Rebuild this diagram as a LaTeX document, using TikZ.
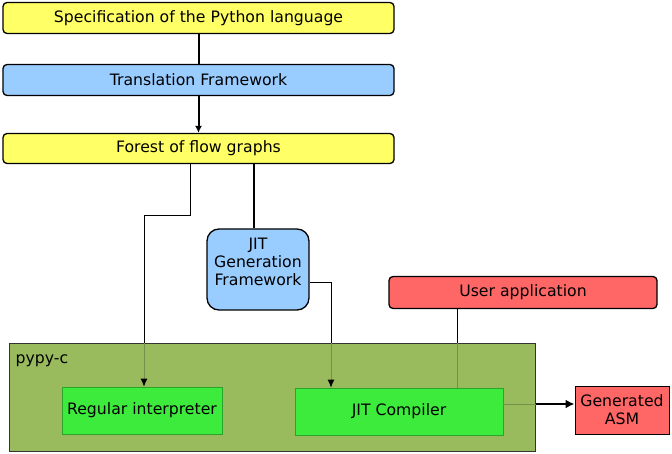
\documentclass[tikz,border=0pt]{standalone}
\usepackage{fontspec}
\setmainfont{DejaVu Sans}
\usetikzlibrary{arrows.meta, positioning, calc}

\definecolor{specyellow}{RGB}{255,255,102}
\definecolor{frameblue}{RGB}{153,204,255}
\definecolor{userred}{RGB}{255,102,102}
\definecolor{pypyolive}{RGB}{153,187,94}
\definecolor{interpgreen}{RGB}{61,235,61}
\definecolor{innerline}{RGB}{115,145,75}

\begin{document}
\begin{tikzpicture}[x=1pt,y=-1pt,font=\fontsize{15.7}{18}\selectfont,
	box/.style={draw=black,line width=1.3pt,rounded corners=4pt,inner sep=0pt},
	inner/.style={draw=interpgreen!70!black,line width=0.6pt,fill=interpgreen,inner sep=0pt},
	link/.style={draw=black,line width=1pt},
	fade/.style={draw=innerline,line width=1pt},
	arr/.style={-{Latex[length=8pt,width=7pt,color=black]}}]
	\useasboundingbox (0,0) rectangle (672,454);

	\node[box,fill=specyellow,minimum width=391pt,minimum height=31pt] (spec) at (198.5,18) {Specification of the Python language};
	\node[box,fill=frameblue,minimum width=391pt,minimum height=31pt] (trans) at (198.5,80) {Translation Framework};
	\node[box,fill=specyellow,minimum width=391pt,minimum height=30pt] (forest) at (198.5,148.5) {Forest of flow graphs};

	\node[box,fill=frameblue,rounded corners=12pt,minimum width=102pt,minimum height=81pt,
		label={[align=center,anchor=north,yshift=-6pt]north:JIT\\Generation\\Framework}] (jitgen) at (258,269.5) {};
	\node[box,fill=userred,minimum width=268pt,minimum height=32pt] (user) at (523,292.5) {User application};

	\node[draw=black!80,line width=1pt,fill=pypyolive,minimum width=526pt,minimum height=108pt,inner sep=0pt,
		label={[anchor=north west,inner sep=0pt,xshift=7pt,yshift=-12pt]north west:pypy-c}] (pypy) at (272,397) {};
	\node[inner,minimum width=160pt,minimum height=47pt] (regint) at (142,410.5) {Regular interpreter};
	\node[inner,minimum width=208pt,minimum height=47pt] (jitc) at (399,411.5) {JIT Compiler};
	\node[draw=black,line width=1pt,fill=userred,minimum width=94pt,minimum height=48pt,inner sep=0pt,align=center] (asm) at (622,410) {Generated\\ASM};

	\coordinate (bendA) at (144,216);
	\coordinate (bendB) at (331,283);
	\coordinate (userdrop) at (457,0);

	\draw[link,line width=2pt] (spec) -- (trans);
	\draw[link,line width=2pt,-{Latex[length=7pt,width=7pt]}] (trans) -- (forest);

	\draw[link] ([xshift=-8.5pt]forest.south) |- (bendA) -- (bendA |- pypy.north);
	\draw[fade,arr] (bendA |- pypy.north) -- (bendA |- regint.north);

	\draw[link,line width=2pt] ([xshift=55.5pt]forest.south) -- (jitgen.north -| 254,0);
	\draw[link] (jitgen.east |- bendB) -- (bendB) -- (bendB |- pypy.north);
	\draw[fade,arr] (bendB |- pypy.north) -- (bendB |- jitc.north);

	\draw[link] (userdrop |- user.south) -- (userdrop |- pypy.north);
	\draw[fade] (userdrop |- pypy.north) -- (userdrop |- jitc.north);

	\draw[fade] (jitc.east |- 0,404) -- (pypy.east |- 0,404);
	\draw[link,line width=2.5pt,-{Latex[length=9pt,width=9pt]}] (pypy.east |- 0,404) -- (asm.west |- 0,404);
\end{tikzpicture}
\end{document}
